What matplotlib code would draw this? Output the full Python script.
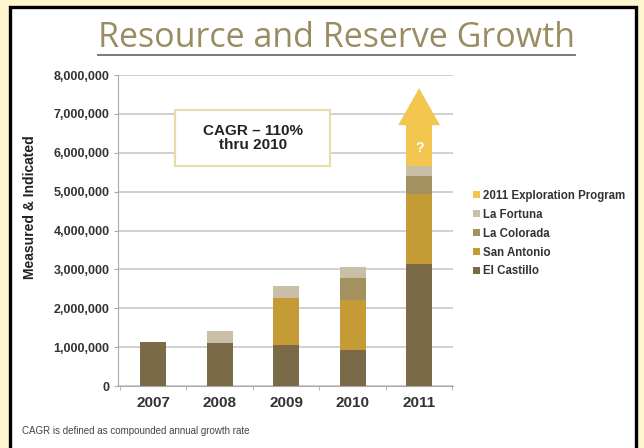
import matplotlib
matplotlib.use("Agg")
import matplotlib.pyplot as plt
import numpy as np
from matplotlib.patches import Rectangle, Polygon
from matplotlib.lines import Line2D
import logging
logging.getLogger("matplotlib.font_manager").setLevel(logging.ERROR)

years = ["2007", "2008", "2009", "2010", "2011"]
el_castillo = [1140000, 1110000, 1050000, 930000, 3140000]
san_antonio = [0, 0, 1220000, 1280000, 1810000]
la_colorada = [0, 0, 0, 570000, 460000]
la_fortuna = [0, 310000, 310000, 280000, 250000]
exploration = [0, 0, 0, 0, 1050000]

series_names = ["El Castillo", "San Antonio", "La Colorada", "La Fortuna", "2011 Exploration Program"]
colors = ["#7a6a47", "#c49b34", "#a3925f", "#c9bea6", "#f3c64f"]

y_ticks = [0, 1000000, 2000000, 3000000, 4000000, 5000000, 6000000, 7000000, 8000000]

NARROW = ["Liberation Sans Narrow", "DejaVu Sans Condensed", "Liberation Sans", "DejaVu Sans"]

W, H = 644, 448
fig = plt.figure(figsize=(W / 100, H / 100), dpi=100)
fig.patch.set_facecolor("#fdf6cf")

# white panel with black frame
panel = Rectangle((10 / W, -0.1), (636 - 10) / W, (H - 7) / H + 0.1, transform=fig.transFigure,
                  facecolor="white", edgecolor="black", linewidth=2.4, zorder=-5)
fig.patches.append(panel)

ax = fig.add_axes([118 / W, 1 - 386 / H, (453 - 118) / W, (386 - 75) / H])
ax.set_facecolor("none")
ax.set_zorder(2)

x = np.arange(len(years))
bw = 0.39
bottom = np.zeros(len(years))
data = [el_castillo, san_antonio, la_colorada, la_fortuna, exploration]
handles = []
for vals, name, c in zip(data, series_names, colors):
    b = ax.bar(x, vals, bw, bottom=bottom, color=c, label=name, zorder=3, linewidth=0)
    handles.append(b)
    bottom = bottom + np.array(vals)

# arrow head on top of exploration shaft
i = len(years) - 1
top = bottom[i]
head_h = 950000
head_hw = 0.315
head = Polygon([[x[i] - head_hw, top], [x[i] + head_hw, top], [x[i], top + head_h]],
               closed=True, facecolor=colors[4], edgecolor="none", zorder=3, clip_on=False)
ax.add_patch(head)
ax.text(x[i], top - exploration[i] * 0.55, "?", color="white", fontsize=10, fontweight="bold",
        ha="center", va="center", zorder=4, family=NARROW)

ax.set_ylim(0, 8000000)
ax.set_xlim(-0.53, 4.51)
ax.set_yticks(y_ticks)
ax.set_yticklabels([f"{v:,}" for v in y_ticks], fontsize=9, fontweight="bold", family=NARROW, color="#333333")
ax.set_xticks(x)
ax.set_xticklabels(years, fontsize=11, fontweight="bold", family=NARROW, color="#333333")
ax.tick_params(axis="x", length=0, pad=7)
ax.tick_params(axis="y", length=3, color="#aaaaaa", pad=3)
ax.set_xticks(np.arange(-0.5, 4.6, 1.0), minor=True)
ax.tick_params(axis="x", which="minor", length=3, color="#aaaaaa")

ax.yaxis.grid(True, color="#c8c8c8", linewidth=1.2, zorder=0)
ax.set_axisbelow(True)
for s in ["top", "right"]:
    ax.spines[s].set_visible(False)
ax.spines["left"].set_color("#aaaaaa")
ax.spines["bottom"].set_color("#aaaaaa")

fig.text(30 / W, 1 - 207 / H, "Measured & Indicated", rotation=90, fontsize=10, fontweight="bold",
         family=NARROW, color="#222222", ha="center", va="center")

# CAGR box
ax.add_patch(Rectangle((175 / W, 1 - 166 / H), (330 - 175) / W, (166 - 110) / H, transform=fig.transFigure,
                       facecolor="white", edgecolor="#e6dcae", linewidth=1.6, zorder=5))
ax.text(253 / W, 1 - 138 / H, "CAGR \u2013 110%\nthru 2010", ha="center", va="center", fontsize=11,
        fontweight="bold", family=NARROW, color="#222222", linespacing=1.05, zorder=6,
        transform=fig.transFigure)

# legend
leg = ax.legend(handles[::-1], series_names[::-1], loc="upper left",
                bbox_to_anchor=(467 / W, 1 - 184 / H), bbox_transform=fig.transFigure,
                frameon=False, handlelength=0.6, handleheight=0.6, handletextpad=0.3,
                labelspacing=0.6, borderpad=0,
                prop={"family": NARROW, "weight": "bold", "size": 8.3})
for t in leg.get_texts():
    t.set_color("#333333")

# title with underline
title = fig.text(336 / W, 1 - 38 / H, "Resource and Reserve Growth", ha="center", va="center",
                 fontsize=24.5, family=["Open Sans", "DejaVu Sans"], color="#9a8c62")
fig.canvas.draw()
bb = title.get_window_extent().transformed(fig.transFigure.inverted())
fig.lines.append(Line2D([bb.x0, bb.x1], [1 - 55 / H, 1 - 55 / H], transform=fig.transFigure,
                        color="#6e6e6e", linewidth=1.3))

fig.text(22 / W, 1 - 431 / H, "CAGR is defined as compounded annual growth rate", fontsize=7,
         family=NARROW, color="#444444", ha="left", va="center")

fig.savefig("out.png", dpi=100, facecolor=fig.get_facecolor())
